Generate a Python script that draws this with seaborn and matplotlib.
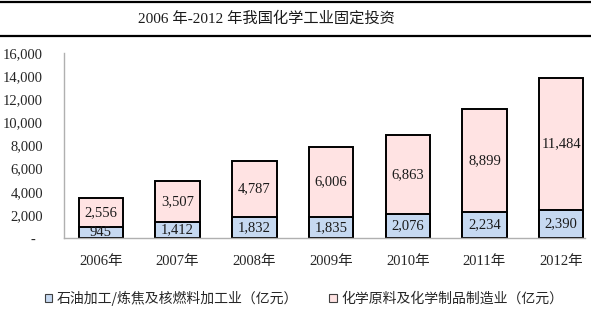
import matplotlib
matplotlib.use("Agg")
import matplotlib.pyplot as plt
import seaborn as sns
import pandas as pd
from matplotlib.lines import Line2D
from matplotlib.patches import Patch

years = ["2006年", "2007年", "2008年", "2009年", "2010年", "2011年", "2012年"]
petro = [945, 1412, 1832, 1835, 2076, 2234, 2390]
chem = [2556, 3507, 4787, 6006, 6863, 8899, 11484]
yticks = [0, 2000, 4000, 6000, 8000, 10000, 12000, 14000, 16000]
ytick_labels = ["-  ", "2,000", "4,000", "6,000", "8,000", "10,000", "12,000", "14,000", "16,000"]
series_names = ["石油加工/炼焦及核燃料加工业（亿元）", "化学原料及化学制品制造业（亿元）"]
title = "2006 年-2012 年我国化学工业固定投资"

blue = "#C6D9F1"
pink = "#FFE3E3"

sns.set_theme(style="white")
plt.rcParams['font.family'] = ['Liberation Serif', 'Noto Sans CJK SC', 'DejaVu Sans']

df = pd.DataFrame({"year": years, "petro": petro, "chem": chem})
df["total"] = df["petro"] + df["chem"]

W, H = 591, 322
fig = plt.figure(figsize=(W / 100, H / 100), dpi=100)
ax = fig.add_axes([64 / W, 1 - 238 / H, (585 - 64) / W, (238 - 53) / H])

sns.barplot(data=df, x="year", y="total", color=pink, edgecolor="black",
            linewidth=1.4, width=0.58, saturation=1, ax=ax)
sns.barplot(data=df, x="year", y="petro", color=blue, edgecolor="black",
            linewidth=1.4, width=0.58, saturation=1, ax=ax)

for i, (p, c) in enumerate(zip(petro, chem)):
    ax.text(i, p / 2, f"{p:,}", ha="center", va="center", fontsize=10.5,
            color="#1a1a1a", family="Liberation Serif")
    ax.text(i, p + c / 2, f"{c:,}", ha="center", va="center", fontsize=10.5,
            color="#1a1a1a", family="Liberation Serif")

ax.set_xlim(-0.48, 6.31)
ax.set_ylim(0, 16000)
ax.set_yticks(yticks)
ax.set_yticklabels(ytick_labels, fontsize=10.5, family="Liberation Serif")
ax.set_xlabel("")
ax.set_ylabel("")
ax.tick_params(axis="y", length=0, pad=15)
ax.tick_params(axis="x", length=0, pad=12, labelsize=10.5)
for lbl in ax.get_xticklabels():
    lbl.set_family(['Liberation Serif', 'Noto Sans CJK SC'])

for s in ["top", "right"]:
    ax.spines[s].set_visible(False)
for s in ["left", "bottom"]:
    ax.spines[s].set_color("#B0B0B0")
    ax.spines[s].set_linewidth(1.0)

# title block with lines
for yy in (1 - 1.5 / H, 1 - 36 / H):
    fig.add_artist(Line2D([0, 1], [yy, yy], transform=fig.transFigure,
                          color="black", linewidth=1.6, zorder=10))
fig.text(266 / W, 1 - 18 / H, title, ha="center", va="center", fontsize=11,
         family=['Liberation Serif', 'Noto Sans CJK SC'], color="#1a1a1a")

handles = [Patch(facecolor=blue, edgecolor="#404040", linewidth=0.8),
           Patch(facecolor=pink, edgecolor="#404040", linewidth=0.8)]
fig.legend(handles, series_names, loc="center", bbox_to_anchor=(304 / W, 1 - 298 / H),
           ncol=2, frameon=False, handlelength=0.55, handleheight=0.55, handletextpad=0.35,
           columnspacing=2.2, prop={"family": "Noto Sans CJK SC", "size": 10})

fig.savefig("out.png", dpi=100)
